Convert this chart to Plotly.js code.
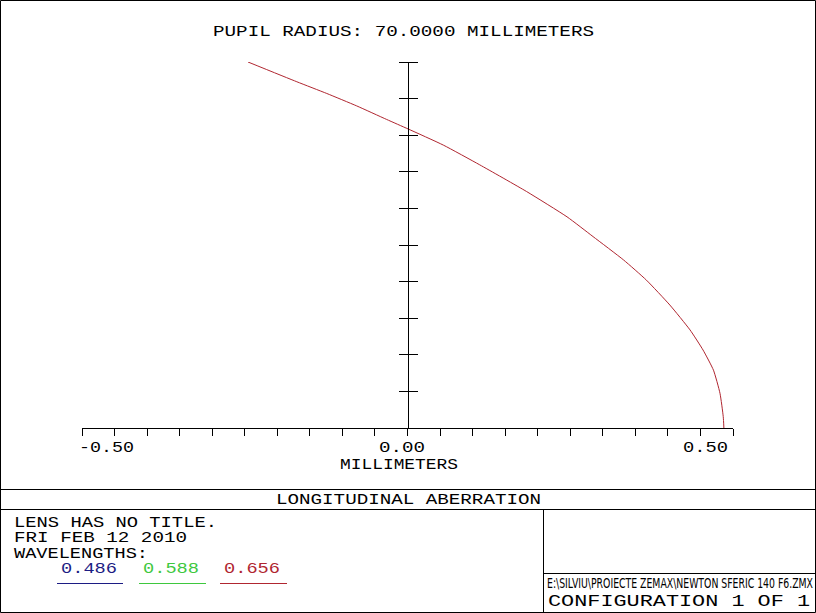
<!DOCTYPE html>
<html><head><meta charset="utf-8">
<script src="https://cdn.plot.ly/plotly-3.0.1.min.js"></script>
<style>html,body{margin:0;padding:0;background:#fff;overflow:hidden;} #chart{width:816px;height:613px;}</style>
</head><body><div id="chart"></div>
<script>
// ---- data ----
const pupil    = [0.000, 0.031, 0.095, 0.158, 0.213, 0.268, 0.336, 0.404, 0.459, 0.523, 0.577, 0.646, 0.719, 0.773, 0.817, 0.843, 0.880, 0.914, 0.946, 1.000];
const shift486 = [0.486, 0.485, 0.480, 0.470, 0.454, 0.434, 0.403, 0.367, 0.332, 0.285, 0.245, 0.183, 0.111, 0.055, 0.001, -0.032, -0.078, -0.124, -0.170, -0.245];
const shift588 = [0.486, 0.485, 0.480, 0.470, 0.454, 0.434, 0.403, 0.367, 0.332, 0.285, 0.245, 0.183, 0.111, 0.055, 0.001, -0.032, -0.078, -0.124, -0.170, -0.245];
const shift656 = [0.486, 0.485, 0.480, 0.470, 0.454, 0.434, 0.403, 0.367, 0.332, 0.285, 0.245, 0.183, 0.111, 0.055, 0.001, -0.032, -0.078, -0.124, -0.170, -0.245];
const wavelengths = ['0.486', '0.588', '0.656'];
const xTickVals = [-0.50,-0.45,-0.40,-0.35,-0.30,-0.25,-0.20,-0.15,-0.10,-0.05,0.00,0.05,0.10,0.15,0.20,0.25,0.30,0.35,0.40,0.45,0.50];
const xLabelVals = [-0.50, 0.00, 0.50];
const xLabelText = ['-0.50', '0.00', '0.50'];
const pupilTicks = [0.0,0.1,0.2,0.3,0.4,0.5,0.6,0.7,0.8,0.9,1.0];
const titleText = 'PUPIL RADIUS: 70.0000 MILLIMETERS';
const xTitle = 'MILLIMETERS';
const plotName = 'LONGITUDINAL ABERRATION';
const infoLines = ['LENS HAS NO TITLE.', 'FRI FEB 12 2010', 'WAVELENGTHS:'];
const filePath = 'E:\\SILVIU\\PROIECTE ZEMAX\\NEWTON SFERIC 140 F6.ZMX';
const configText = 'CONFIGURATION 1 OF 1';

// ---- styles ----
const W = 816, H = 613;
const colors = ['#1c1c84', '#3ec83e', '#b02630'];
const FONT = 'Liberation Mono, DejaVu Sans Mono, monospace';
const NARROW = 'Liberation Sans Narrow, DejaVu Sans Condensed, sans-serif';
const X = px => px / W;
const Y = py => 1 - py / H;

// all three wavelengths coincide for a mirror; red is drawn last and hides the others
const series = [shift486, shift588, shift656];
const traces = series.map((s, i) => ({
  type: 'scatter', mode: 'lines', x: s, y: pupil, xaxis: 'x', yaxis: 'y',
  line: {color: colors[i], width: 1, shape: 'spline', smoothing: 0.5},
  opacity: i === series.length - 1 ? 1 : 0,
  hoverinfo: 'skip', showlegend: false
}));
traces.push({type: 'scatter', mode: 'lines', x: [0], y: [0], xaxis: 'x', yaxis: 'y2',
  line: {width: 0}, opacity: 0, hoverinfo: 'skip', showlegend: false});

const xDom = [X(82), X(733)];
const yDom = [Y(428), Y(62)];
const yPos = xDom[0] + 0.5 * (xDom[1] - xDom[0]);

// text specs: left px, centre y px, target width px
const texts = [];
function addText(text, left, cy, w, opts) {
  texts.push(Object.assign({text, left, cy, w, size: 14.5, family: FONT, color: '#000', adjust: 'spacingAndGlyphs', vscale: 1}, opts || {}));
}
addText(titleText, 212, 31.7, 381);
const labelLefts = [78, 378, 682];
xLabelText.forEach((t, i) => addText(t, labelLefts[i], 447.5, [55, 46, 45][i], {xval: xLabelVals[i]}));
addText(xTitle, 339, 464.5, 118);
addText(plotName, 275, 499.5, 265);
infoLines.forEach((t, i) => addText(t, 12.5, [522.7, 538.3, 553.5][i], [203, 173, 134][i]));
wavelengths.forEach((t, i) => addText(t, [60, 141.7, 222.7][i], 569, 56, {color: colors[i]}));
addText(filePath, 546, 583, 266, {family: NARROW, size: 10, vscale: 1.4});
addText(configText, 547, 601.5, 262, {size: 16});

const annotations = texts.map(t => {
  const a = {text: t.text, showarrow: false, xanchor: 'left', yanchor: 'middle', align: 'left',
    yref: 'paper', y: Y(t.cy), font: {family: t.family, size: t.size, color: t.color}, borderpad: 0};
  if (t.xval !== undefined) {
    a.xref = 'x'; a.x = t.xval;
    const valPx = 82 + (t.xval + 0.5) * 651;
    a.xshift = t.left - valPx;
  } else { a.xref = 'paper'; a.x = X(t.left); }
  return a;
});

const ln = (x0, y0, x1, y1, color) => ({type: 'line', xref: 'paper', yref: 'paper',
  x0: X(x0), y0: Y(y0), x1: X(x1), y1: Y(y1), line: {color: color || '#000', width: 1}});
const shapes = [
  ln(0.5, 0.5, 815.5, 0.5), ln(0.5, 612.5, 815.5, 612.5), ln(0.5, 0.5, 0.5, 612.5), ln(815.5, 0.5, 815.5, 612.5),
  ln(0, 489.5, 816, 489.5), ln(0, 509.5, 816, 509.5),
  ln(543.5, 509.5, 543.5, 613), ln(543.5, 573.5, 816, 573.5)
];
const underl = [[57, 123], [139, 206], [220, 287]];
wavelengths.forEach((w, i) => shapes.push(ln(underl[i][0], 583.5, underl[i][1], 583.5, colors[i])));

const axisCommon = {showgrid: false, zeroline: false, showticklabels: false, linecolor: '#000', linewidth: 1, tickcolor: '#000', tickwidth: 1};
const layout = {
  width: W, height: H, margin: {l: 0, r: 0, t: 0, b: 0, pad: 0},
  paper_bgcolor: '#fff', plot_bgcolor: 'rgba(0,0,0,0)', showlegend: false,
  xaxis: Object.assign({}, axisCommon, {domain: xDom, range: [-0.5, 0.5], showline: true,
    ticks: 'outside', ticklen: 7, tickmode: 'array', tickvals: xTickVals, anchor: 'y'}),
  yaxis: Object.assign({}, axisCommon, {domain: yDom, range: [0, 1], showline: true, anchor: 'free', position: yPos,
    side: 'left', ticks: 'outside', ticklen: 9, tickmode: 'array', tickvals: pupilTicks}),
  yaxis2: Object.assign({}, axisCommon, {domain: yDom, range: [0, 1], showline: false, anchor: 'free', position: yPos,
    overlaying: 'y', side: 'right', ticks: 'outside', ticklen: 9, tickmode: 'array', tickvals: pupilTicks}),
  annotations, shapes
};

Plotly.newPlot('chart', traces, layout, {staticPlot: true, displayModeBar: false}).then(gd => {
  gd.querySelectorAll('.annotation').forEach(g => {
    const i = +g.getAttribute('data-index');
    const spec = texts[i];
    if (!spec) return;
    const t = g.querySelector('text.annotation-text');
    if (t) {
      t.setAttribute('textLength', spec.w);
      t.setAttribute('lengthAdjust', spec.adjust);
      if (spec.vscale !== 1) {
        const bb = t.getBBox();
        const cy = bb.y + bb.height / 2;
        t.setAttribute('transform', 'translate(0,' + cy + ') scale(1,' + spec.vscale + ') translate(0,' + (-cy) + ')');
      }
    }
    const bg = g.querySelector('rect.bg');
    if (bg) bg.setAttribute('width', spec.w);
  });
});
</script>
</body></html>
